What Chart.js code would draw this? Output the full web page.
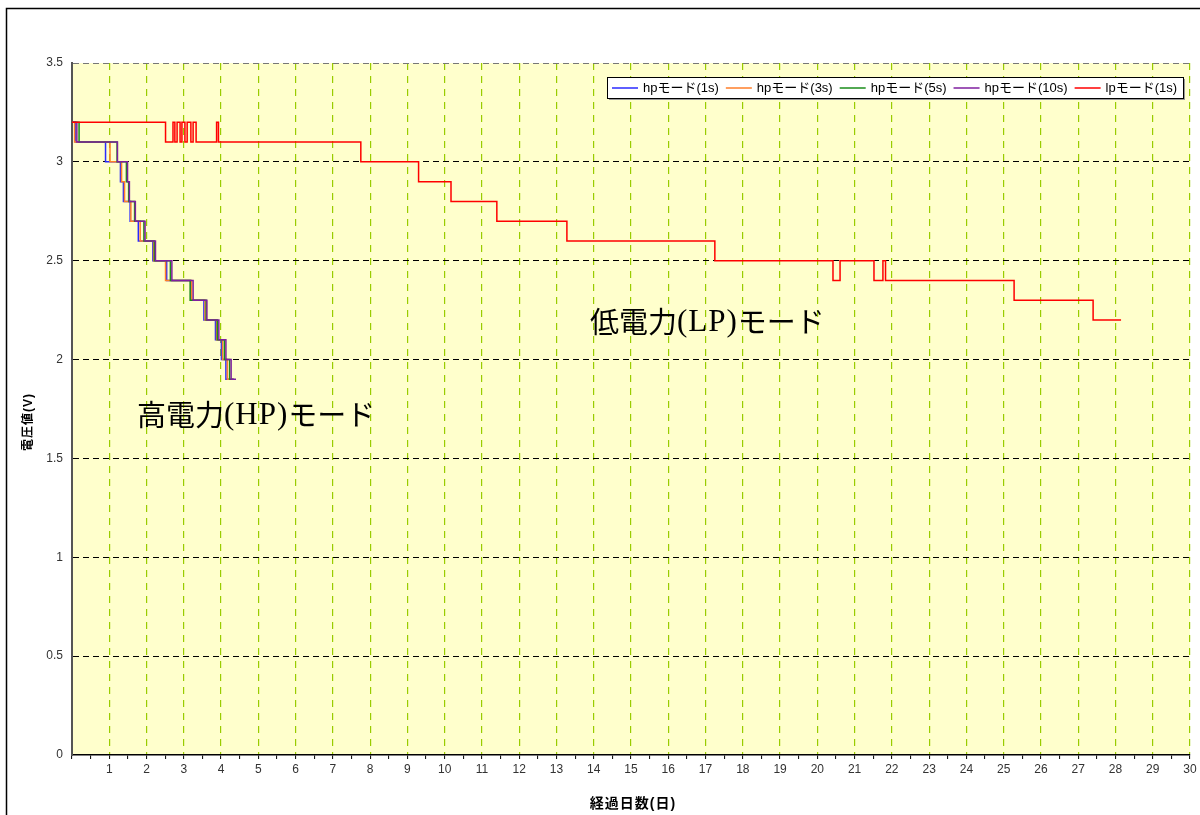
<!DOCTYPE html>
<html lang="ja">
<head>
<meta charset="utf-8">
<title>電圧値の推移</title>
<script src="https://cdn.jsdelivr.net/npm/chart.js@4.4.1/dist/chart.umd.min.js"></script>
<style>
  html, body { margin: 0; padding: 0; background: #fff; }
  #wrap { width: 1200px; height: 815px; position: relative; }
</style>
</head>
<body>
<div id="wrap"><canvas id="voltChart" width="1200" height="815"></canvas></div>
<script>
// 経過日数 (日) で電圧が切り替わる点 — 図から読み取り
const hpVolts = [3.2, 3.1, 3.0, 2.9, 2.8, 2.7, 2.6, 2.5, 2.4, 2.3, 2.2, 2.1, 2.0, 1.9, 1.9];
const hp1Days = [0, 0.09, 0.90, 1.30, 1.38, 1.56, 1.78, 2.17, 2.54, 3.19, 3.54, 3.85, 4.01, 4.13, 4.24];
const hp3Days = [0, 0.07, 1.02, 1.33, 1.41, 1.58, 1.83, 2.19, 2.51, 3.21, 3.57, 3.88, 4.04, 4.17, 4.32];
const hp5Days = [0, 0.19, 1.21, 1.46, 1.52, 1.68, 1.93, 2.21, 2.64, 3.17, 3.60, 3.90, 4.09, 4.23, 4.35];
const hp10Days = [0, 0.13, 1.22, 1.49, 1.54, 1.70, 1.96, 2.24, 2.68, 3.25, 3.62, 3.94, 4.13, 4.27, 4.40];

const lpDays = [0, 2.51, 2.71, 2.76, 2.82, 2.90, 2.95, 3.03, 3.09, 3.19, 3.25, 3.33, 3.88, 3.93,
  7.75, 9.30, 10.17, 11.40, 13.28, 17.25, 20.42, 20.61, 21.52, 21.76, 21.83, 25.28, 27.40, 28.15];
const lpVolts = [3.2, 3.1, 3.2, 3.1, 3.2, 3.1, 3.2, 3.1, 3.2, 3.1, 3.2, 3.1, 3.2, 3.1,
  3.0, 2.9, 2.8, 2.7, 2.6, 2.5, 2.4, 2.5, 2.4, 2.5, 2.4, 2.3, 2.2, 2.2];

const seriesLabels = ['hpモード(1s)', 'hpモード(3s)', 'hpモード(5s)', 'hpモード(10s)', 'lpモード(1s)'];
const seriesColors = ['#2a2aff', '#ff7f2a', '#1a8c1a', '#7f1f9f', '#ff0000'];

const xTitle = '経過日数(日)';
const yTitle = '電圧値(V)';

const CJK = "'Noto Sans CJK JP'";
const SANS = "'Liberation Sans', " + CJK + ", sans-serif";

function toPoints(days, volts) {
  return days.map((d, i) => ({ x: d, y: volts[i] }));
}

// 背景・枠線・凡例・注釈を描くプラグイン
const decorPlugin = {
  id: 'decor',
  beforeDraw(chart) {
    const { ctx, chartArea: a } = chart;
    ctx.save();
    ctx.fillStyle = '#fff';
    ctx.fillRect(0, 0, chart.width, chart.height);
    ctx.strokeStyle = '#000';
    ctx.lineWidth = 1.5;
    ctx.strokeRect(6.5, 8.5, 1400, 1000);
    ctx.fillStyle = '#ffffcc';
    ctx.fillRect(a.left, a.top, a.right - a.left, a.bottom - a.top);
    ctx.restore();
  },
  afterDraw(chart) {
    const { ctx } = chart;
    ctx.save();

    // 軸タイトル
    ctx.fillStyle = '#000';
    ctx.textAlign = 'center';
    ctx.textBaseline = 'middle';
    ctx.font = 'bold 14px ' + SANS;
    ctx.letterSpacing = '1px';
    ctx.fillText(xTitle, 633, 804);
    ctx.save();
    ctx.translate(29, 422);
    ctx.rotate(-Math.PI / 2);
    ctx.font = 'bold 12px ' + SANS;
    ctx.fillText(yTitle, 0, 0);
    ctx.restore();
    ctx.letterSpacing = '0px';

    // 注釈テキスト
    drawNote(ctx, 137, 415, '高電力', '(HP)', 'モード');
    drawNote(ctx, 590, 322, '低電力', '(LP)', 'モード');

    // 凡例
    const box = { x: 607, y: 77, w: 576, h: 21 };
    ctx.fillStyle = '#999';
    ctx.fillRect(box.x + 2, box.y + 2, box.w, box.h);
    ctx.fillStyle = '#fff';
    ctx.fillRect(box.x, box.y, box.w, box.h);
    ctx.strokeStyle = '#000';
    ctx.lineWidth = 1;
    ctx.strokeRect(box.x + 0.5, box.y + 0.5, box.w, box.h);
    ctx.font = '13px ' + SANS;
    ctx.textAlign = 'left';
    let x = 612;
    const cy = box.y + box.h / 2 + 0.5;
    chart.data.datasets.forEach(ds => {
      ctx.strokeStyle = ds.borderColor;
      ctx.lineWidth = 1.5;
      ctx.beginPath();
      ctx.moveTo(x, cy);
      ctx.lineTo(x + 26, cy);
      ctx.stroke();
      ctx.fillStyle = '#000';
      ctx.fillText(ds.label, x + 31, cy);
      x += 31 + ctx.measureText(ds.label).width + 7;
    });
    ctx.restore();
  }
};

function drawNote(ctx, x, y, head, mid, tail) {
  ctx.fillStyle = '#000';
  ctx.textAlign = 'left';
  ctx.textBaseline = 'middle';
  ctx.font = '29px ' + CJK;
  ctx.fillText(head, x, y);
  x += ctx.measureText(head).width;
  ctx.font = "31px 'Liberation Serif', serif";
  ctx.letterSpacing = '1px';
  ctx.fillText(mid, x, y + 1);
  x += ctx.measureText(mid).width;
  ctx.letterSpacing = '0px';
  ctx.font = '29px ' + CJK;
  ctx.fillText(tail, x, y);
}

const hpSets = [hp1Days, hp3Days, hp5Days, hp10Days];
const datasets = hpSets.map((days, i) => ({
  label: seriesLabels[i],
  data: toPoints(days, hpVolts),
  borderColor: seriesColors[i],
  borderWidth: 1.5,
  order: 4 - i
}));
datasets.push({
  label: seriesLabels[4],
  data: toPoints(lpDays, lpVolts),
  borderColor: seriesColors[4],
  borderWidth: 1.5,
  order: 0
});
datasets.forEach(ds => {
  ds.stepped = 'before';
  ds.pointRadius = 0;
  ds.fill = false;
});

new Chart(document.getElementById('voltChart'), {
  type: 'line',
  data: { datasets: datasets },
  options: {
    responsive: false,
    animation: false,
    layout: { padding: { left: 0, top: 63, right: 10, bottom: 0 } },
    plugins: { legend: { display: false }, tooltip: { enabled: false } },
    scales: {
      x: {
        type: 'linear',
        min: 0,
        max: 30,
        afterFit: s => { s.height = 60; },
        ticks: {
          stepSize: 0.5,
          autoSkip: false,
          maxRotation: 0,
          padding: 3,
          color: '#333',
          font: { family: SANS, size: 12 },
          callback: v => (Number.isInteger(v) && v > 0 ? String(v) : '')
        },
        grid: {
          color: c => (c.tick && Number.isInteger(c.tick.value) && c.tick.value > 0 ? '#99cc00' : 'rgba(0,0,0,0)'),
          lineWidth: 1.2,
          tickColor: '#000',
          tickLength: 4,
          tickWidth: 1
        },
        border: { display: true, color: '#000', width: 1.5, dash: [7, 6] }
      },
      y: {
        min: 0,
        max: 3.5,
        afterFit: s => { s.width = 72; },
        ticks: {
          stepSize: 0.5,
          padding: 9,
          color: '#333',
          font: { family: SANS, size: 12 },
          callback: v => String(v)
        },
        grid: {
          color: c => (c.tick && c.tick.value === 3.5 ? '#777' : (c.tick && c.tick.value === 0 ? 'rgba(0,0,0,0)' : '#000')),
          lineWidth: 1,
          drawTicks: false
        },
        border: { display: true, color: '#555', width: 2, dash: [6, 4] }
      }
    }
  },
  plugins: [decorPlugin]
});
</script>
</body>
</html>
